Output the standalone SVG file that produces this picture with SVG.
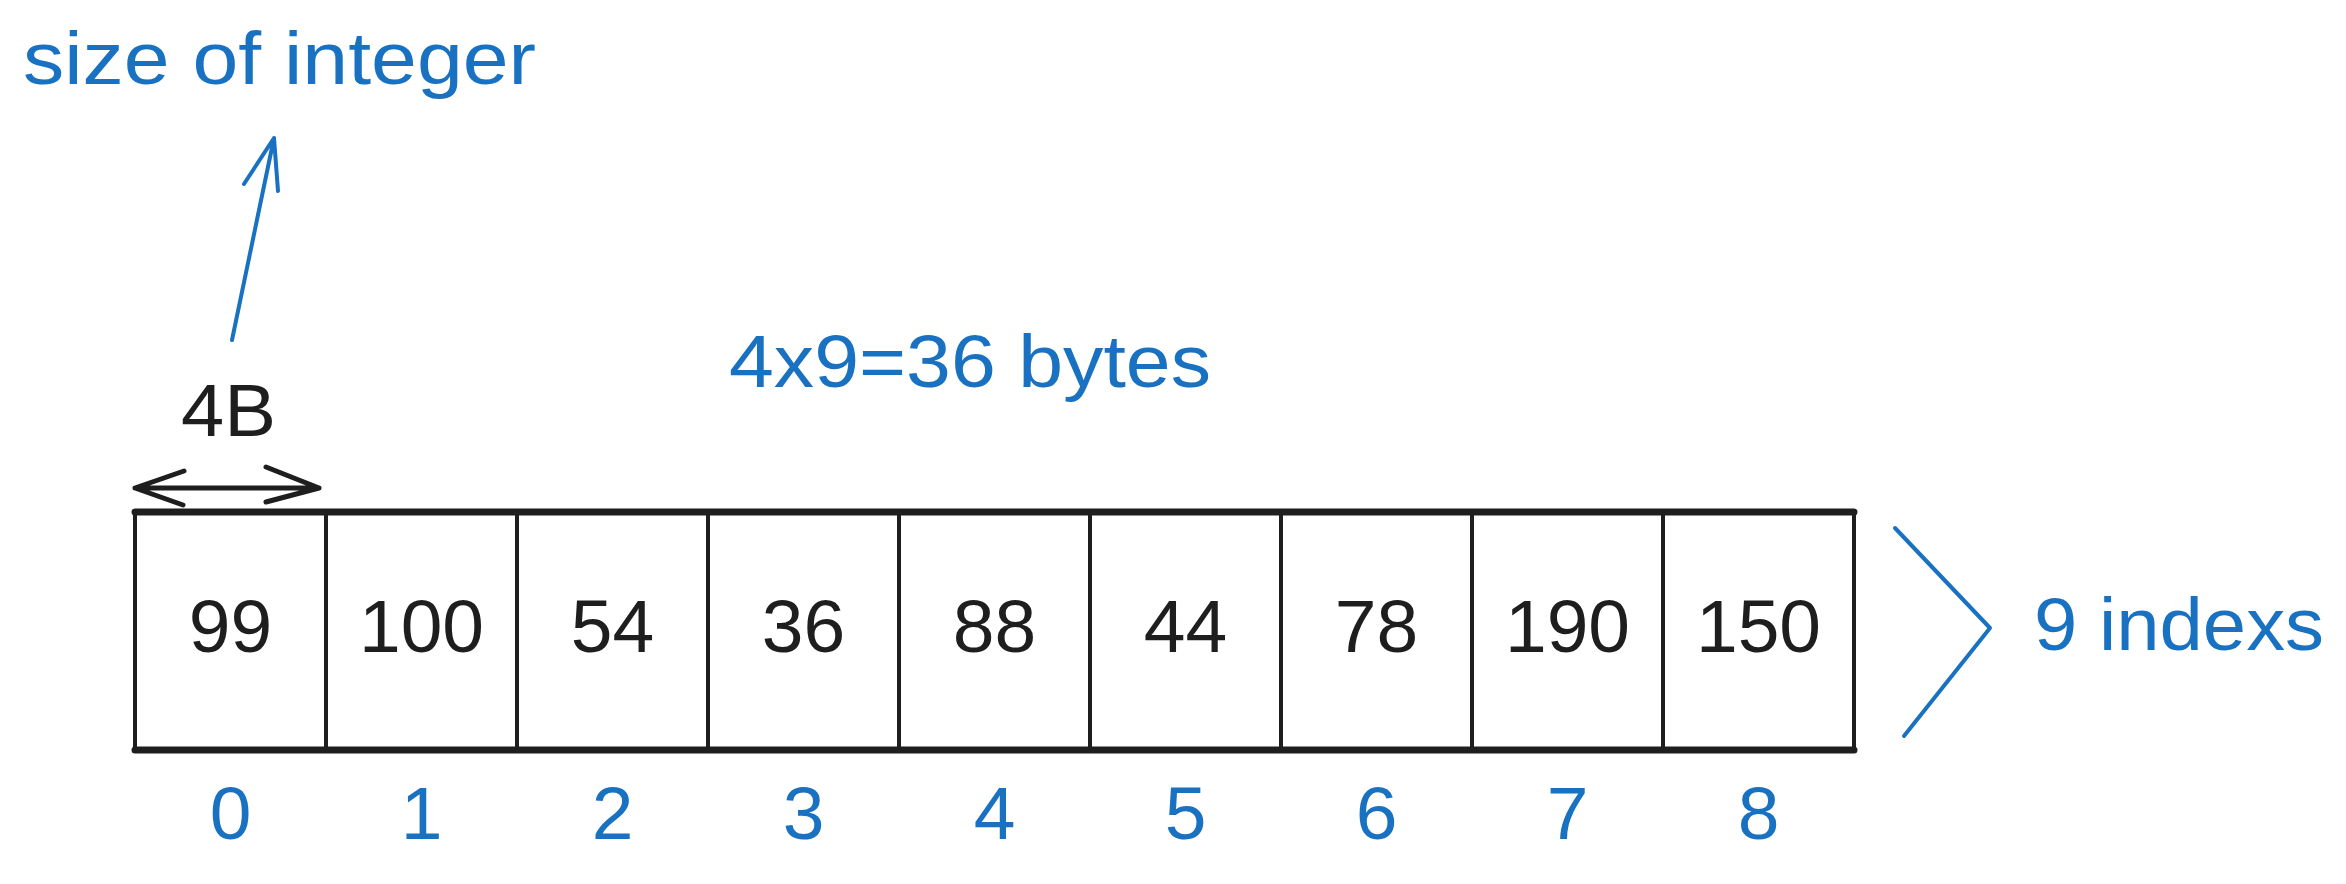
<svg xmlns="http://www.w3.org/2000/svg" width="2346" height="884" viewBox="0 0 2346 884">
<style>
.bg{fill:#ffffff}
.cell{fill:#ffffff;stroke:#1e1e1e;stroke-width:4;stroke-linejoin:round}
.edge{fill:none;stroke:#1e1e1e;stroke-width:7;stroke-linecap:round}
.t{font-family:"Liberation Sans","DejaVu Sans",sans-serif;font-size:75px}
.blue{fill:#1971c2}
.black{fill:#1e1e1e}
.mid{text-anchor:middle}
.bl{fill:none;stroke:#1971c2;stroke-width:4;stroke-linecap:round;stroke-linejoin:round}
.bk{fill:none;stroke:#1e1e1e;stroke-width:5;stroke-linecap:round;stroke-linejoin:round}
</style>
<rect class="bg" x="0" y="0" width="2346" height="884"/>
<g id="label-size"><text class="t blue" x="23" y="84" font-size="76" textLength="513" lengthAdjust="spacingAndGlyphs">size of integer</text></g>
<g id="label-4b"><text class="t black" x="181" y="436" font-size="78" textLength="95" lengthAdjust="spacingAndGlyphs">4B</text></g>
<g id="label-total"><text class="t blue" x="729" y="387" textLength="482" lengthAdjust="spacingAndGlyphs">4x9=36 bytes</text></g>
<g id="array">
<g id="cell-0"><rect class="cell" x="135" y="512" width="191" height="238"/><text class="t black mid" x="230.5" y="652">99</text></g>
<g id="cell-1"><rect class="cell" x="326" y="512" width="191" height="238"/><text class="t black mid" x="421.5" y="652">100</text></g>
<g id="cell-2"><rect class="cell" x="517" y="512" width="191" height="238"/><text class="t black mid" x="612.5" y="652">54</text></g>
<g id="cell-3"><rect class="cell" x="708" y="512" width="191" height="238"/><text class="t black mid" x="803.5" y="652">36</text></g>
<g id="cell-4"><rect class="cell" x="899" y="512" width="191" height="238"/><text class="t black mid" x="994.5" y="652">88</text></g>
<g id="cell-5"><rect class="cell" x="1090" y="512" width="191" height="238"/><text class="t black mid" x="1185.5" y="652">44</text></g>
<g id="cell-6"><rect class="cell" x="1281" y="512" width="191" height="238"/><text class="t black mid" x="1376.5" y="652">78</text></g>
<g id="cell-7"><rect class="cell" x="1472" y="512" width="191" height="238"/><text class="t black mid" x="1567.5" y="652">190</text></g>
<g id="cell-8"><rect class="cell" x="1663" y="512" width="191" height="238"/><text class="t black mid" x="1758.5" y="652">150</text></g>
<path class="edge" d="M135 512 L1854 512 M135 750 L1854 750"/>
</g>
<g id="indices">
<text class="t blue mid" x="230.5" y="839">0</text>
<text class="t blue mid" x="421.5" y="839">1</text>
<text class="t blue mid" x="612.5" y="839">2</text>
<text class="t blue mid" x="803.5" y="839">3</text>
<text class="t blue mid" x="994.5" y="839">4</text>
<text class="t blue mid" x="1185.5" y="839">5</text>
<text class="t blue mid" x="1376.5" y="839">6</text>
<text class="t blue mid" x="1567.5" y="839">7</text>
<text class="t blue mid" x="1758.5" y="839">8</text>
</g>
<g id="label-indexes"><text class="t blue" x="2034" y="650" textLength="290" lengthAdjust="spacingAndGlyphs">9 indexs</text></g>
<g id="connectors">
<path class="bl" d="M232 340 L274 138 M244 184 L274 138 L278 191"/>
<path class="bk" d="M135 488 L319 488 M184 471 L135 488 L183 505 M266 467 L319 488 L266 502"/>
<path class="bl" d="M1895 528 L1990 628 L1904 736"/>
</g>
</svg>
